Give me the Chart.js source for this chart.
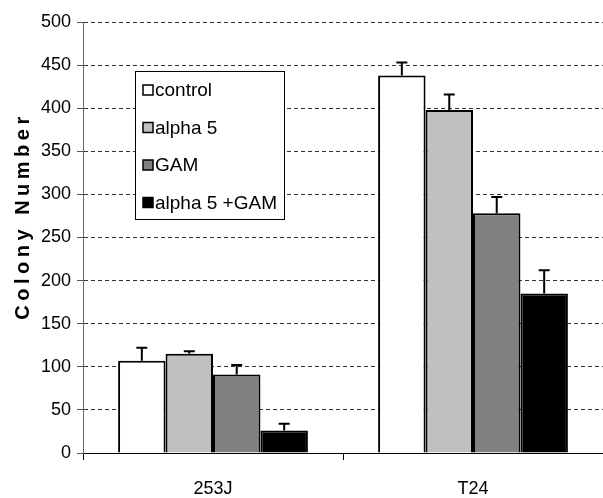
<!DOCTYPE html>
<html>
<head>
<meta charset="utf-8">
<script src="https://cdn.jsdelivr.net/npm/chart.js@4"></script>
<style>
  html, body { margin: 0; padding: 0; background: #fff; }
  #wrap { width: 603px; height: 498px; }
</style>
</head>
<body>
<div id="wrap"><canvas id="myChart" width="603" height="498"></canvas></div>
<script>
const categories = ['253J', 'T24'];
const seriesNames = ['control', 'alpha 5', 'GAM', 'alpha 5 +GAM'];
const seriesColors = ['#ffffff', '#c0c0c0', '#808080', '#000000'];
const controlVals = [107, 438];
const alpha5Vals = [115, 398];
const gamVals = [91, 278];
const comboVals = [26, 185];
const controlErr = [15, 15];
const alpha5Err = [3, 18];
const gamErr = [11, 19];
const comboErr = [8, 27];
const yTicks = [0, 50, 100, 150, 200, 250, 300, 350, 400, 450, 500];

const FONT = '"Liberation Sans", Arial, sans-serif';
const allVals = [controlVals, alpha5Vals, gamVals, comboVals];
const allErr = [controlErr, alpha5Err, gamErr, comboErr];

// upward error bars with a cap
const errorBars = {
    id: 'errorBars',
    afterDatasetsDraw(chart) {
        const ctx = chart.ctx;
        const y = chart.scales.y;
        ctx.save();
        ctx.strokeStyle = '#000';
        ctx.lineWidth = 2;
        chart.data.datasets.forEach((ds, di) => {
            chart.getDatasetMeta(di).data.forEach((bar, i) => {
                const top = y.getPixelForValue(ds.data[i] + allErr[di][i]);
                ctx.beginPath();
                ctx.moveTo(bar.x, bar.y);
                ctx.lineTo(bar.x, top);
                ctx.moveTo(bar.x - 5.5, top);
                ctx.lineTo(bar.x + 5.5, top);
                ctx.stroke();
            });
        });
        ctx.restore();
    }
};

// legend box inside the plot + spaced axis title
const extras = {
    id: 'extras',
    afterDraw(chart) {
        const ctx = chart.ctx;
        ctx.save();
        ctx.fillStyle = '#fff';
        ctx.fillRect(135, 71, 149, 148);
        ctx.strokeStyle = '#000';
        ctx.lineWidth = 1;
        ctx.strokeRect(135.5, 71.5, 149, 148);
        ctx.font = '19px ' + FONT;
        ctx.textBaseline = 'middle';
        seriesNames.forEach((n, i) => {
            const cy = 90 + i * 37.5;
            ctx.fillStyle = seriesColors[i];
            ctx.fillRect(143, cy - 5, 10, 10);
            ctx.strokeStyle = '#000';
            ctx.lineWidth = 1.5;
            ctx.strokeRect(143, cy - 5, 10, 10);
            ctx.fillStyle = '#000';
            ctx.fillText(n, 155, cy + 1);
        });

        ctx.translate(23, 218);
        ctx.rotate(-Math.PI / 2);
        ctx.font = 'bold 20px ' + FONT;
        ctx.letterSpacing = '4.5px';
        ctx.textAlign = 'center';
        ctx.textBaseline = 'middle';
        ctx.fillStyle = '#000';
        ctx.fillText('Colony Number', 2, 0);
        ctx.restore();
    }
};

new Chart(document.getElementById('myChart'), {
    type: 'bar',
    data: {
        labels: categories,
        datasets: seriesNames.map((n, i) => ({
            label: n,
            data: allVals[i],
            backgroundColor: seriesColors[i],
            borderColor: '#000',
            borderWidth: 2,
            barPercentage: 1,
            categoryPercentage: 0.73
        }))
    },
    options: {
        responsive: false,
        animation: false,
        layout: { padding: { top: 22, right: 0, left: 0, bottom: 0 } },
        plugins: { legend: { display: false }, tooltip: { enabled: false } },
        scales: {
            x: {
                afterFit: s => { s.height = 45; },
                grid: { drawOnChartArea: false, drawTicks: true, tickLength: 7, color: '#000', lineWidth: 1 },
                border: { color: '#000', width: 1 },
                ticks: { color: '#000', font: { family: FONT, size: 18 }, padding: 18 }
            },
            y: {
                min: 0,
                max: 500,
                afterFit: s => { s.width = 83; },
                afterBuildTicks: s => { s.ticks = yTicks.map(v => ({ value: v })); },
                grid: { color: '#333', lineWidth: 1, tickLength: 6, tickColor: '#555' },
                border: { dash: [4, 3], color: '#666', width: 1 },
                ticks: { color: '#000', font: { family: FONT, size: 18 }, padding: 6 }
            }
        }
    },
    plugins: [errorBars, extras]
});
</script>
</body>
</html>
